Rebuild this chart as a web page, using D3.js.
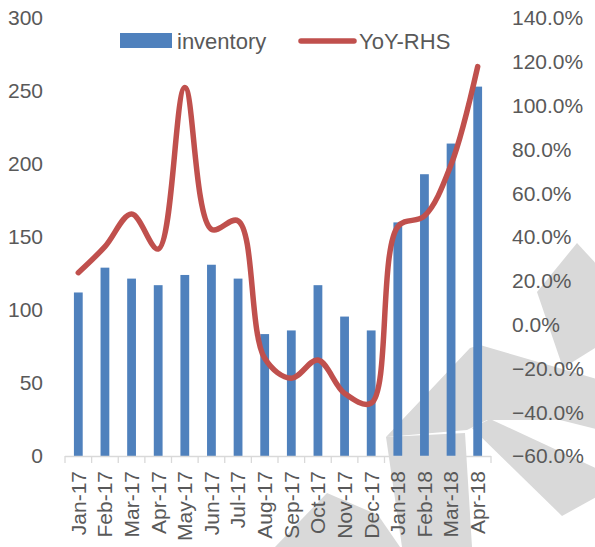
<!DOCTYPE html>
<meta charset="utf-8">
<style>
  body { margin: 0; background: #fff; }
  svg text { font-family: "Liberation Sans", Arial, sans-serif; fill: #595959; }
</style>
<svg width="595" height="547"></svg>
<script src="https://d3js.org/d3.v7.min.js"></script>
<script>

var months = ["Jan-17","Feb-17","Mar-17","Apr-17","May-17","Jun-17","Jul-17","Aug-17","Sep-17","Oct-17","Nov-17","Dec-17","Jan-18","Feb-18","Mar-18","Apr-18"];
var inventory = [112, 129, 121.5, 117, 124, 131, 121.5, 83.5, 86, 117, 95.5, 86, 160, 193, 214, 253];
var yoy = [0.237, 0.356, 0.505, 0.345, 1.083, 0.435, 0.474, -0.154, -0.245, -0.162, -0.314, -0.359, 0.447, 0.496, 0.73, 1.178];
var leftTicks = [0, 50, 100, 150, 200, 250, 300];
var rightTicks = [-0.6, -0.4, -0.2, 0, 0.2, 0.4, 0.6, 0.8, 1.0, 1.2, 1.4];

// grey logo watermark sitting behind the plot
var watermark = [
  [[537,292],[577,243],[600,268],[600,345],[563,368]],
  [[386,437],[470,348],[480,345],[600,380],[600,430],[560,420],[487,420],[467,430]],
  [[472,428],[490,419],[600,470],[600,495],[562,516]],
  [[386,437],[465,433],[472,547],[402,547]],
  [[275,547],[327,493],[378,515],[400,547]]
];

var svg = d3.select("svg"), width = +svg.attr("width"), height = +svg.attr("height");

var x = d3.scaleBand().domain(months).range([65, 491]);
var yL = d3.scaleLinear().domain([0, 300]).range([456, 18]);
var yR = d3.scaleLinear().domain([-0.6, 1.4]).range([456, 18]);

svg.append("g").selectAll("polygon")
    .data(watermark)
  .enter().append("polygon")
    .attr("points", function(d) { return d.map(function(p) { return p.join(","); }).join(" "); })
    .attr("fill", "#D9D9D9");

// bars
var bw = x.step() * 0.33;
svg.append("g").selectAll("rect")
    .data(inventory)
  .enter().append("rect")
    .attr("x", function(d, i) { return x(months[i]) + x.step() / 2 - bw / 2; })
    .attr("y", function(d) { return yL(d); })
    .attr("width", bw)
    .attr("height", function(d) { return yL(0) - yL(d); })
    .attr("fill", "#4F81BD");

// x axis line + ticks
var xa = svg.append("g");
xa.append("line").attr("x1", 65).attr("x2", 491).attr("y1", 456.5).attr("y2", 456.5)
    .attr("stroke", "#D9D9D9").attr("stroke-width", 1.3);
xa.selectAll("line.tk")
    .data(months.concat(["end"]))
  .enter().append("line")
    .attr("class", "tk")
    .attr("x1", function(d, i) { return 65 + i * x.step(); })
    .attr("x2", function(d, i) { return 65 + i * x.step(); })
    .attr("y1", 456).attr("y2", 463)
    .attr("stroke", "#D9D9D9").attr("stroke-width", 1.3);
xa.selectAll("text")
    .data(months)
  .enter().append("text")
    .attr("transform", function(d) { return "translate(" + (x(d) + x.step() / 2) + ",471) rotate(-90)"; })
    .attr("dy", "0.35em")
    .attr("text-anchor", "end")
    .style("font-size", "21px")
    .text(function(d) { return d; });

// left axis labels
svg.append("g").selectAll("text")
    .data(leftTicks)
  .enter().append("text")
    .attr("x", 43)
    .attr("y", function(d) { return yL(d); })
    .attr("dy", "0.35em")
    .attr("text-anchor", "end")
    .style("font-size", "21px")
    .text(function(d) { return d; });

// right axis labels
var pct = d3.format(".1%");
svg.append("g").selectAll("text")
    .data(rightTicks)
  .enter().append("text")
    .attr("x", 512)
    .attr("y", function(d) { return yR(d); })
    .attr("dy", "0.35em")
    .attr("text-anchor", "start")
    .style("font-size", "21px")
    .text(function(d) { return pct(d); });

// YoY line (smoothed like the spreadsheet's line)
var line = d3.line()
    .x(function(d, i) { return x(months[i]) + x.step() / 2; })
    .y(function(d) { return yR(d); })
    .curve(d3.curveCatmullRom.alpha(0.5));
svg.append("path")
    .datum(yoy)
    .attr("d", line)
    .attr("fill", "none")
    .attr("stroke", "#C0504D")
    .attr("stroke-width", 5.5)
    .attr("stroke-linecap", "round")
    .attr("stroke-linejoin", "round");

// legend
var lg = svg.append("g");
lg.append("rect").attr("x", 120).attr("y", 33).attr("width", 52).attr("height", 15).attr("fill", "#4F81BD");
lg.append("text").attr("x", 177).attr("y", 41).attr("dy", "0.35em").style("font-size", "22px").text("inventory");
lg.append("line").attr("x1", 301).attr("x2", 354).attr("y1", 41).attr("y2", 41)
    .attr("stroke", "#C0504D").attr("stroke-width", 5.5).attr("stroke-linecap", "round");
lg.append("text").attr("x", 359).attr("y", 41).attr("dy", "0.35em").style("font-size", "22px").text("YoY-RHS");

</script>
